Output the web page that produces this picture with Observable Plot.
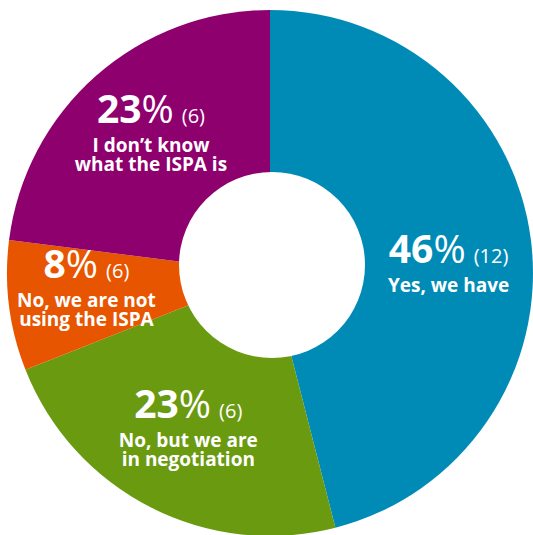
<!DOCTYPE html>
<html>
<head>
<meta charset="utf-8">
<script src="https://cdn.jsdelivr.net/npm/d3@7"></script>
<script src="https://cdn.jsdelivr.net/npm/@observablehq/plot@0.6"></script>
<style>
  html, body { margin: 0; padding: 0; background: #fff; }
  #chart svg { display: block; }
</style>
</head>
<body>
<div id="chart"></div>
<script>
// ---- data ----
const categories = ["Yes, we have", "No, but we are in negotiation", "No, we are not using the ISPA", "I don’t know what the ISPA is"];
const labelLines = [["Yes, we have"], ["No, but we are", "in negotiation"], ["No, we are not", "using the ISPA"], ["I don’t know", "what the ISPA is"]];
const percents = [46, 23, 8, 23];
const counts = [12, 6, 6, 6];
const colors = ["#008bb6", "#6a9a10", "#e85500", "#8e006e"];

const data = categories.map((c, i) => ({category: c, lines: labelLines[i], pct: percents[i], count: counts[i]}));

// ---- layout ----
const W = 533, H = 535;
const center = [270, 273];
const outerR = 263;
const hole = {dx: 2, dy: -8, r: 93};
const labelR = 180;
const nudges = [[0, 28], [0, 0], [-5, -3], [0, 0]];
const FONT = "'Open Sans', Lato, sans-serif";

const color = Plot.scale({color: {type: "ordinal", domain: categories, range: colors}});

function donut(index, scales, values, dimensions) {
  const g = d3.create("svg:g");
  const sx = scales && scales.x ? scales.x : (v) => v;
  const sy = scales && scales.y ? scales.y : (v) => v;
  const cx = sx(center[0]), cy = sy(center[1]);
  const arcs = d3.pie().sort(null).value(d => d.pct)(data);
  const arc = d3.arc().innerRadius(0).outerRadius(outerR);
  const labelArc = d3.arc().innerRadius(labelR).outerRadius(labelR);
  const root = g.append("g").attr("transform", `translate(${cx},${cy})`);
  root.selectAll("path").data(arcs).join("path")
    .attr("d", arc)
    .attr("fill", d => color.apply(d.data.category));
  root.append("circle").attr("cx", hole.dx).attr("cy", hole.dy).attr("r", hole.r).attr("fill", "#fff");

  arcs.forEach((a, i) => {
    const [lx, ly] = labelArc.centroid(a);
    const x = lx + nudges[i][0], y = ly + nudges[i][1];
    const t = root.append("text")
      .attr("font-family", FONT)
      .attr("fill", "#fff")
      .attr("text-anchor", "middle")
      .attr("x", x).attr("y", y - 15);
    t.append("tspan").attr("font-size", 39).attr("font-weight", 700).text(a.data.pct);
    t.append("tspan").attr("font-size", 39).attr("font-weight", 400).text("%");
    t.append("tspan").attr("font-size", 20).attr("font-weight", 400).attr("dx", 8).text(`(${a.data.count})`);
    const lbl = root.append("text")
      .attr("font-family", FONT)
      .attr("fill", "#fff")
      .attr("text-anchor", "middle")
      .attr("font-size", 19)
      .attr("font-weight", 700)
      .attr("x", x).attr("y", y + 14);
    a.data.lines.forEach((line, k) => {
      lbl.append("tspan")
        .attr("x", x)
        .attr("dy", k === 0 ? 0 : 19)
        .text(line);
    });
  });
  return g.node();
}

const chart = Plot.plot({
  width: W,
  height: H,
  margin: 0,
  x: {domain: [0, W], range: [0, W], axis: null},
  y: {domain: [0, H], range: [0, H], axis: null},
  marks: [donut]
});
document.getElementById("chart").appendChild(chart);
</script>
</body>
</html>
